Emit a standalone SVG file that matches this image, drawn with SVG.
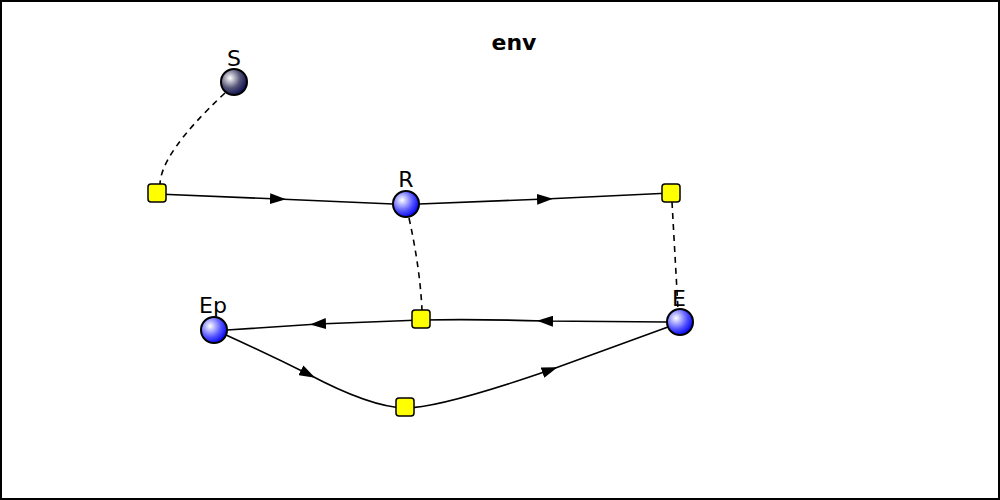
<svg xmlns="http://www.w3.org/2000/svg" width="1000" height="500" viewBox="0 0 1000 500">
<style>
.e{fill:none;stroke:#000;stroke-width:1.6}
.d{fill:none;stroke:#000;stroke-width:1.6;stroke-dasharray:6,5}
.a{marker-mid:url(#ar)}
.sq{fill:#ff0;stroke:#000;stroke-width:1.5}
.n{stroke:#000;stroke-width:2}
text{font-family:"DejaVu Sans",sans-serif;font-size:22px;text-anchor:middle}
</style>
<defs>
<radialGradient id="gb" cx="0.35" cy="0.35" r="0.7"><stop offset="0" stop-color="#fff"/><stop offset="0.6" stop-color="#55f"/><stop offset="1" stop-color="#00e"/></radialGradient>
<radialGradient id="gd" cx="0.35" cy="0.35" r="0.7"><stop offset="0" stop-color="#fff"/><stop offset="0.55" stop-color="#557"/><stop offset="1" stop-color="#0a0a50"/></radialGradient>
<marker id="ar" viewBox="0 0 16 11" refX="8" refY="5.5" markerWidth="16" markerHeight="11" markerUnits="userSpaceOnUse" orient="auto"><path d="M0,0L16,5.5L0,11z"/></marker>
</defs>
<rect x="1" y="1" width="998" height="498" fill="#fff" stroke="#000" stroke-width="2"/>
<text x="514" y="50" font-weight="bold">env</text>
<g id="connectors">
<path class="d" d="M225,93 C180,135 160,165 160,185"/>
<path class="d" d="M409,218 Q420,268 422,310"/>
<path class="d" d="M672,202 L678,309"/>
<path class="e a" d="M157,194 L278,199 L393,204"/>
<path class="e a" d="M419,204 L545,199 L671,193"/>
<path class="e a" d="M667,322 L545,321 Q480,319 421,320"/>
<path class="e a" d="M421,320 L318,324 L227,330"/>
<path class="e a" d="M226,335 Q270,355 308,374 Q370,407 405,408"/>
<path class="e a" d="M405,408 Q440,408 550,370 L668,327"/>
</g>
<g id="S"><circle class="n" cx="234" cy="82" r="13" fill="url(#gd)"/><text x="234" y="66">S</text></g>
<g id="R"><circle class="n" cx="406" cy="204" r="13" fill="url(#gb)"/><text x="406" y="187">R</text></g>
<g id="Ep"><circle class="n" cx="214" cy="330" r="13" fill="url(#gb)"/><text x="213" y="313">Ep</text></g>
<g id="E"><circle class="n" cx="680" cy="322" r="13" fill="url(#gb)"/><text x="679" y="306">E</text></g>
<g id="b1"><rect class="sq" x="148" y="184" width="18" height="18" rx="3"/></g>
<g id="b2"><rect class="sq" x="662" y="184" width="18" height="18" rx="3"/></g>
<g id="b3"><rect class="sq" x="412" y="310" width="18" height="18" rx="3"/></g>
<g id="b4"><rect class="sq" x="396" y="398" width="18" height="18" rx="3"/></g>
</svg>
